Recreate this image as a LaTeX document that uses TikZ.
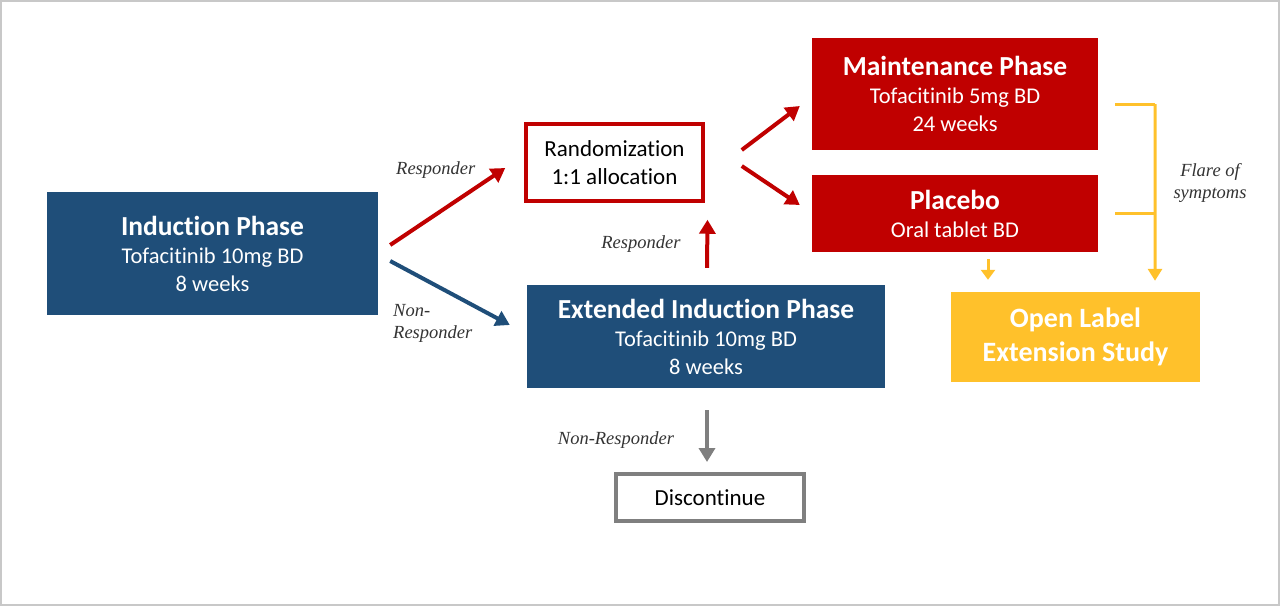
\documentclass[tikz,border=0pt]{standalone}
\usepackage{fontspec}
\setmainfont{Carlito}[Ligatures={NoCommon}]
\newfontfamily\labelfont{Liberation Serif}
\usetikzlibrary{arrows.meta,calc}
\definecolor{nblue}{HTML}{1F4E79}
\definecolor{nred}{HTML}{C00000}
\definecolor{ngold}{HTML}{FFC12B}
\definecolor{ngray}{HTML}{7F7F7F}
\definecolor{frame}{HTML}{C8C8C8}
\tikzset{
  filledbox/.style={draw=none, inner sep=0pt, align=center, text=white, font=\fontsize{22.5}{28}\selectfont},
  bluebox/.style={filledbox, fill=nblue},
  redbox/.style={filledbox, fill=nred},
  goldbox/.style={filledbox, fill=ngold, font=\bfseries\fontsize{28}{34}\selectfont},
  outbox/.style={draw=#1, fill=white, inner sep=0pt, align=center, text=black, font=\fontsize{23}{28}\selectfont},
  conn/.style={line width=4pt, -{Triangle[length=14pt,width=16pt]}},
  lbl/.style={font=\labelfont\itshape\fontsize{18.5}{22}\selectfont, text=black!80, inner sep=0pt},
}
\newcommand{\hd}[1]{{\bfseries\fontsize{27.5}{30}\selectfont #1}}
\begin{document}
\begin{tikzpicture}[x=1pt,y=-1pt]
\useasboundingbox (0,0) rectangle (1280,606);
\draw[frame, line width=2pt] (1,1) rectangle (1279,605);
% boxes
\node[bluebox, minimum width=331pt, minimum height=123pt] (ind) at (212.5,253.5)
  {\hd{Induction Phase}\\Tofacitinib 10mg BD\\8 weeks};
\node[outbox=nred, line width=3.5pt, minimum width=177pt, minimum height=77pt] (rand) at (614.5,162.5)
  {Randomization\\1:1 allocation};
\node[redbox, minimum width=286pt, minimum height=112pt] (maint) at (955,94)
  {\hd{Maintenance Phase}\\Tofacitinib 5mg BD\\24 weeks};
\node[redbox, minimum width=286pt, minimum height=77pt] (plac) at (955,213.5)
  {\hd{Placebo}\\Oral tablet BD};
\node[bluebox, minimum width=358pt, minimum height=103pt] (ext) at (706,336.5)
  {\hd{Extended Induction Phase}\\Tofacitinib 10mg BD\\8 weeks};
\node[goldbox, minimum width=249pt, minimum height=90pt] (ole) at (1075.5,337)
  {Open Label\\Extension Study};
\node[outbox=ngray, line width=4pt, minimum width=188pt, minimum height=47pt] (disc) at (710,497.5)
  {Discontinue};
% connectors
\draw[conn, nred] ($(ind.east)+(12,-8.5)$) -- ($(rand.west)+(-19,5.5)$);
\draw[conn, nblue] ($(ind.east)+(12,7.5)$) -- ($(ext.west)+(-17,-11.5)$);
\draw[conn, nred] ($(ext.north)+(1,-17)$) -- ($(rand.south)+(93,17)$ |- 0,216);
\draw[conn, nred] ($(rand.east)+(37,-12.5)$) -- ($(maint.west)+(-12,12)$);
\draw[conn, nred] ($(rand.east)+(37,3.5)$) -- ($(plac.west)+(-12,-8.5)$);
\draw[conn, ngray] ($(ext.south)+(1,22)$) -- ($(disc.north)+(-3,-10)$);
% yellow
\coordinate (fj) at ($(maint.east)+(57,10)$);
\draw[ngold, line width=3pt] ($(maint.east)+(17,10)$) -- (fj);
\draw[ngold, line width=3pt] ($(plac.east)+(17,0)$) -- ($(plac.east)+(57,0)$);
\draw[ngold, line width=3pt, -{Triangle[length=12pt,width=14pt]}] (fj) -- ($(ole.north)+(79.5,-11)$);
\draw[ngold, line width=3pt, -{Triangle[length=10pt,width=14pt]}] ($(plac.south)+(33,7)$) -- ($(ole.north)+(-87.5,-12)$);
% labels
\node[lbl, anchor=west] (l1) at (396,170) {Responder};
\node[lbl, anchor=north west, align=left] (l2) at (393,304) {Non-\\Responder};
\node[lbl] (l3) at (641,244) {Responder};
\node[lbl] (l4) at (616,440) {Non-Responder};
\node[lbl, align=center] (l5) at (1210,183) {Flare of\\symptoms};
\end{tikzpicture}
\end{document}
